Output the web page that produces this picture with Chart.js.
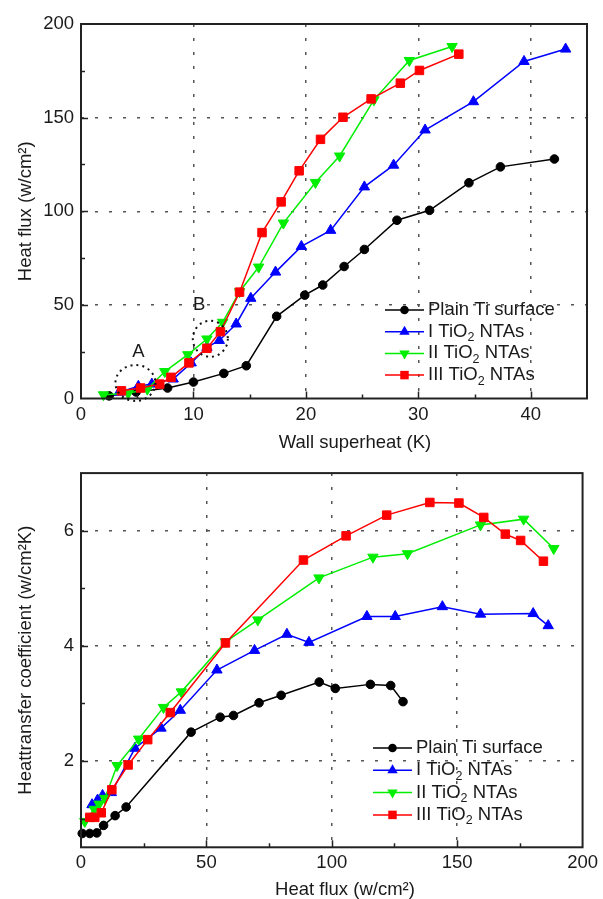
<!DOCTYPE html>
<html>
<head>
<meta charset="utf-8">
<title>Boiling curves</title>
<script src="https://cdn.jsdelivr.net/npm/chart.js@4.4.1/dist/chart.umd.min.js"></script>
<style>
  body { margin: 0; background: #fff; }
  canvas { display: block; }
</style>
</head>
<body>
<canvas id="fluxChart" width="603" height="455"></canvas>
<canvas id="htcChart" width="603" height="444"></canvas>
<script>
// ---- values ----
var seriesNames = ['Plain Ti surface', 'I TiO2 NTAs', 'II TiO2 NTAs', 'III TiO2 NTAs'];

// top panel: wall superheat (K) -> heat flux (w/cm2)
var plainDT = [2.5, 4.9, 7.7, 10.0, 12.7, 14.7, 17.4, 19.9, 21.5, 23.4, 25.2, 28.1, 31.0, 34.5, 37.3, 42.1];
var plainQ  = [1.4, 3.5, 5.6, 8.8, 13.4, 17.5, 43.9, 55.2, 60.6, 70.5, 79.6, 95.2, 100.5, 115.2, 123.7, 127.9];
var tio1DT = [3.4, 5.1, 6.3, 8.2, 9.8, 11.2, 12.3, 13.8, 15.1, 17.3, 19.6, 22.2, 25.2, 27.8, 30.6, 34.9, 39.4, 43.1];
var tio1Q  = [3.4, 6.5, 7.7, 10.4, 19.0, 27.3, 31.0, 39.8, 53.5, 67.5, 81.2, 89.8, 113.0, 124.6, 143.4, 158.5, 180.0, 186.6];
var tio2DT = [2.0, 4.2, 5.9, 7.45, 9.5, 11.2, 12.6, 14.1, 15.8, 18.0, 20.85, 23.0, 26.05, 29.2, 33.0];
var tio2Q  = [2.0, 2.8, 5.0, 14.4, 23.4, 31.8, 40.7, 57.0, 70.2, 93.7, 115.4, 129.5, 159.5, 180.5, 188.0];
var tio3DT = [3.6, 5.3, 7.0, 8.0, 9.6, 11.2, 12.4, 14.1, 16.1, 17.8, 19.4, 21.3, 23.3, 25.8, 28.4, 30.1, 33.6];
var tio3Q  = [4.1, 5.6, 7.7, 11.3, 19.0, 26.8, 35.7, 56.8, 88.6, 105.0, 121.6, 138.4, 150.2, 160.0, 168.4, 175.2, 183.9];

// bottom panel: heat flux (w/cm2) -> heat transfer coefficient (w/cm2K)
var plainFlux = [0.5, 3.5, 6.3, 9.0, 13.6, 18.0, 43.9, 55.5, 60.8, 71.0, 79.8, 95.0, 101.4, 115.4, 123.5, 128.4];
var plainHtc  = [0.74, 0.74, 0.75, 0.88, 1.05, 1.2, 2.5, 2.76, 2.79, 3.01, 3.14, 3.37, 3.26, 3.33, 3.31, 3.03];
var tio1Flux = [4.4, 6.6, 8.6, 12.1, 21.5, 31.9, 39.6, 54.2, 69.2, 82.1, 90.9, 114.0, 125.3, 144.1, 159.3, 180.3, 186.3];
var tio1Htc  = [1.24, 1.32, 1.4, 1.45, 2.22, 2.57, 2.88, 3.58, 3.92, 4.2, 4.06, 4.51, 4.51, 4.68, 4.55, 4.56, 4.35];
var tio2Flux = [1.5, 5.3, 7.2, 9.5, 14.4, 23.0, 32.9, 40.0, 57.6, 70.5, 94.9, 116.4, 130.2, 159.3, 176.5, 188.5];
var tio2Htc  = [0.95, 1.16, 1.25, 1.35, 1.92, 2.38, 2.93, 3.2, 4.07, 4.45, 5.18, 5.54, 5.6, 6.1, 6.2, 5.69];
var tio3Flux = [3.5, 5.5, 8.1, 12.3, 18.8, 26.6, 35.6, 57.6, 88.7, 105.7, 121.9, 139.1, 150.7, 160.6, 169.2, 175.3, 184.4];
var tio3Htc  = [1.02, 1.02, 1.1, 1.5, 1.93, 2.37, 2.84, 4.05, 5.49, 5.91, 6.27, 6.49, 6.48, 6.23, 5.94, 5.83, 5.47];

// ---- look ----
var looks = [
  {color: '#000000', point: 'circle',   radius: 4.3, rotation: 0,   order: 3},
  {color: '#0000ff', point: 'triangle', radius: 6,   rotation: 0,   order: 2},
  {color: '#00ee00', point: 'triangle', radius: 6,   rotation: 180, order: 1},
  {color: '#ff0000', point: 'rect',     radius: 6,   rotation: 0,   order: 0}
];
var FONT = "'Liberation Sans', Arial, sans-serif";
var TXT = '#1a1a1a';

Chart.defaults.font.family = FONT;
Chart.defaults.font.size = 18.5;
Chart.defaults.color = TXT;

function pts(xs, ys) {
  return xs.map(function (x, i) { return {x: x, y: ys[i]}; });
}

function makeSets(pairs) {
  return pairs.map(function (p, i) {
    var lk = looks[i];
    return {
      label: seriesNames[i],
      data: pts(p[0], p[1]),
      showLine: true,
      borderColor: lk.color,
      backgroundColor: lk.color,
      borderWidth: 1.5,
      pointStyle: lk.point,
      pointRadius: lk.radius,
      pointRotation: lk.rotation,
      pointBorderWidth: 1,
      order: lk.order,
      clip: false
    };
  });
}

// draws the box, inward tick marks, the x title and the legend
var framePlugin = {
  id: 'frame',
  afterDraw: function (chart, args, opts) {
    var ctx = chart.ctx, a = chart.chartArea;
    ctx.save();
    ctx.strokeStyle = '#222';
    ctx.lineWidth = 1.5;
    ['x', 'y'].forEach(function (id) {
      var sc = chart.scales[id];
      sc.ticks.forEach(function (t) {
        if (t.value <= sc.min || t.value >= sc.max) return;
        var major = opts.major(id, t.value);
        var len = major ? 7 : 4;
        var p = Math.round(sc.getPixelForValue(t.value)) + 0.5;
        ctx.beginPath();
        if (id === 'x') { ctx.moveTo(p, a.bottom); ctx.lineTo(p, a.bottom - len); }
        else { ctx.moveTo(a.left, p); ctx.lineTo(a.left + len, p); }
        ctx.stroke();
      });
    });
    ctx.lineWidth = 2;
    ctx.strokeRect(a.left, a.top, a.right - a.left, a.bottom - a.top);

    // x axis title, sits a little right of the centre in the original
    ctx.font = '18.5px ' + FONT;
    ctx.fillStyle = TXT;
    ctx.textAlign = 'center';
    ctx.textBaseline = 'middle';
    ctx.fillText(opts.xTitle.text, opts.xTitle.x, a.bottom + opts.xTitle.dy);
    ctx.textAlign = 'left';

    // legend
    var lg = opts.legend;
    chart.data.datasets.forEach(function (ds, i) {
      var lk = looks[i];
      var y = lg.y + i * lg.gap;
      ctx.strokeStyle = lk.color;
      ctx.fillStyle = lk.color;
      ctx.lineWidth = 1.5;
      ctx.beginPath();
      ctx.moveTo(lg.x, y); ctx.lineTo(lg.x + 39, y);
      ctx.stroke();
      drawMark(ctx, lk, lg.x + 19.5, y);
      ctx.fillStyle = TXT;
      var tx = lg.x + 43;
      var parts = ds.label.split('TiO2');
      if (parts.length === 1) {
        ctx.fillText(ds.label, tx, y);
      } else {
        ctx.fillText(parts[0] + 'TiO', tx, y);
        tx += ctx.measureText(parts[0] + 'TiO').width;
        ctx.font = '12.5px ' + FONT;
        ctx.fillText('2', tx, y + 6);
        tx += ctx.measureText('2').width;
        ctx.font = '18.5px ' + FONT;
        ctx.fillText(parts[1], tx, y);
      }
    });

    // dotted rings with letters (top panel only)
    (opts.rings || []).forEach(function (r) {
      var cx = chart.scales.x.getPixelForValue(r.x);
      var cy = chart.scales.y.getPixelForValue(r.y);
      ctx.strokeStyle = '#111';
      ctx.lineWidth = 2;
      ctx.setLineDash([2, 4]);
      ctx.beginPath();
      ctx.ellipse(cx, cy, r.rx, r.ry, 0, 0, Math.PI * 2);
      ctx.stroke();
      ctx.setLineDash([]);
      ctx.fillStyle = TXT;
      ctx.textAlign = 'center';
      ctx.fillText(r.text, chart.scales.x.getPixelForValue(r.tx), chart.scales.y.getPixelForValue(r.ty));
      ctx.textAlign = 'left';
    });
    ctx.restore();
  }
};

function drawMark(ctx, lk, x, y) {
  var r = lk.radius;
  ctx.beginPath();
  if (lk.point === 'circle') {
    ctx.arc(x, y, r, 0, Math.PI * 2);
  } else if (lk.point === 'rect') {
    var s = r * Math.SQRT1_2;
    ctx.rect(x - s, y - s, 2 * s, 2 * s);
  } else {
    var d = lk.rotation ? -1 : 1;
    ctx.moveTo(x, y - d * r);
    ctx.lineTo(x + 0.866 * r, y + d * 0.5 * r);
    ctx.lineTo(x - 0.866 * r, y + d * 0.5 * r);
    ctx.closePath();
  }
  ctx.fill();
}

function axis(min, max, step, every, title, size, isX) {
  var ax = {
    type: 'linear',
    min: min, max: max,
    ticks: {
      stepSize: step,
      padding: isX ? 5 : 7,
      color: TXT,
      callback: function (v) { return (v % every === 0) ? v : ''; }
    },
    grid: {
      drawTicks: false,
      lineWidth: 1.5,
      color: function (c) {
        var v = c.tick ? c.tick.value : null;
        if (v === null || v <= min || v >= max) return 'rgba(0,0,0,0)';
        return v % every === 0 ? '#555' : 'rgba(0,0,0,0)';
      }
    },
    border: {display: false, dash: [3, 11]},
    title: {display: !isX, text: title, color: TXT, font: {size: 18.5}, padding: {top: 15, bottom: 0}},
    afterFit: function (sc) {
      if (isX) sc.height = size; else sc.width = size;
    }
  };
  return ax;
}

new Chart(document.getElementById('fluxChart'), {
  type: 'scatter',
  data: {
    datasets: makeSets([[plainDT, plainQ], [tio1DT, tio1Q], [tio2DT, tio2Q], [tio3DT, tio3Q]])
  },
  options: {
    responsive: false,
    animation: false,
    layout: {padding: {left: 0, right: 16, top: 24, bottom: 0}},
    scales: {
      x: axis(0, 45, 5, 10, '', 56.5, true),
      y: axis(0, 200, 25, 50, 'Heat flux (w/cm\u00b2)', 81, false)
    },
    plugins: {
      legend: {display: false},
      tooltip: {enabled: false},
      frame: {
        major: function (id, v) { return id === 'x' ? v % 10 === 0 : v % 50 === 0; },
        xTitle: {text: 'Wall superheat (K)', x: 355, dy: 44},
        legend: {x: 385, y: 310, gap: 21.7},
        rings: [
          {x: 4.84, y: 8.3, rx: 20, ry: 18, text: 'A', tx: 5.1, ty: 24.8},
          {x: 11.5, y: 31.9, rx: 17.5, ry: 18, text: 'B', tx: 10.5, ty: 49.9}
        ]
      }
    }
  },
  plugins: [framePlugin]
});

new Chart(document.getElementById('htcChart'), {
  type: 'scatter',
  data: {
    datasets: makeSets([[plainFlux, plainHtc], [tio1Flux, tio1Htc], [tio2Flux, tio2Htc], [tio3Flux, tio3Htc]])
  },
  options: {
    responsive: false,
    animation: false,
    layout: {padding: {left: 0, right: 16, top: 17.5, bottom: 0}},
    scales: {
      x: axis(0, 200, 25, 50, '', 51.7, true),
      y: axis(0.5, 7, 1, 2, 'Heattransfer coefficient (w/cm\u00b2K)', 81, false)
    },
    plugins: {
      legend: {display: false},
      tooltip: {enabled: false},
      frame: {
        major: function (id, v) { return id === 'x' ? v % 50 === 0 : v % 2 === 0; },
        xTitle: {text: 'Heat flux (w/cm\u00b2)', x: 345, dy: 42.5},
        legend: {x: 373, y: 293, gap: 22.3}
      }
    }
  },
  plugins: [framePlugin]
});
</script>
</body>
</html>
